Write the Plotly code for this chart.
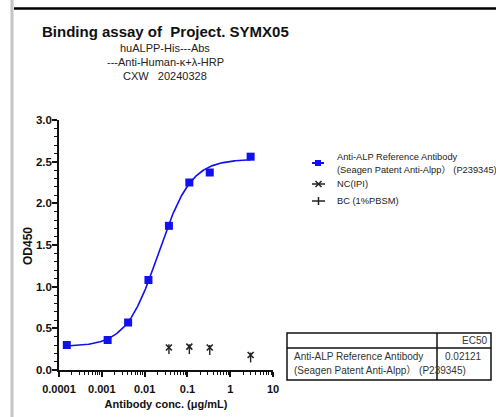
import plotly.graph_objects as go
import numpy as np

# ---------------- data ----------------
conc_ref = [0.000152, 0.00137, 0.00412, 0.0123, 0.037, 0.111, 0.333, 3.0]
od_ref = [0.30, 0.36, 0.57, 1.08, 1.73, 2.25, 2.37, 2.56]

conc_nc = [0.037, 0.111, 0.333, 3.0]
od_nc = [0.27, 0.28, 0.27, 0.18]

conc_bc = [0.037, 0.111, 0.333, 3.0]
od_bc = [0.25, 0.25, 0.24, 0.15]

# 4PL fit parameters (from the fitted curve)
fit_bottom = 0.28
fit_top = 2.53
fit_ec50 = 0.02121
fit_hill = 1.15

x_tickvals = [0.0001, 0.001, 0.01, 0.1, 1, 10]
x_ticktext = ["0.0001", "0.001", "0.01", "0.1", "1", "10"]
y_tickvals = [0.0, 0.5, 1.0, 1.5, 2.0, 2.5, 3.0]
y_ticktext = ["0.0", "0.5", "1.0", "1.5", "2.0", "2.5", "3.0"]

legend_names = ["Anti-ALP Reference Antibody", "(Seagen Patent Anti-Alpp\uff09 (P239345)", "NC(IPI)", "BC (1%PBSM)"]
ec50_label = "EC50"
ec50_value = "0.02121"

BLUE = "#1010f0"
FONT = "Liberation Sans, Arial, Noto Sans CJK SC, sans-serif"
W, H = 496, 417
L, R, T, B = 59, 273, 120, 370

def px(x):
    return (x - L) / (R - L)

def py(y):
    return (B - y) / (B - T)

xs = np.logspace(np.log10(min(conc_ref)), np.log10(max(conc_ref)), 300)
ys = fit_bottom + (fit_top - fit_bottom) / (1 + (fit_ec50 / xs) ** fit_hill)

fig = go.Figure()
fig.add_trace(go.Scatter(x=xs, y=ys, mode="lines", line=dict(color=BLUE, width=1.6),
                         hoverinfo="skip", showlegend=False))
fig.add_trace(go.Scatter(x=conc_ref, y=od_ref, mode="markers",
                         marker=dict(symbol="square", size=8, color=BLUE), showlegend=False))
fig.add_trace(go.Scatter(x=conc_nc, y=od_nc, mode="markers",
                         marker=dict(symbol="x-thin", size=6, line=dict(color="#222", width=1.6)),
                         showlegend=False))
fig.add_trace(go.Scatter(x=conc_bc, y=od_bc, mode="markers",
                         marker=dict(symbol="line-ns", size=7, line=dict(color="#222", width=1.4)),
                         showlegend=False))

fig.update_xaxes(type="log", range=[-4, 1], tickvals=x_tickvals, ticktext=x_ticktext, automargin=False,
                 showline=True, linecolor="#111", linewidth=1.5, ticks="outside", ticklen=5,
                 tickwidth=1.5, tickcolor="#111", showgrid=False, zeroline=False, ticklabelstandoff=3,
                 tickfont=dict(family=FONT, size=11, color="#111", weight="bold"),
                 minor=dict(tickvals=[m * 10 ** e for e in range(-4, 1) for m in range(2, 10)],
                            ticks="outside", ticklen=3, tickwidth=1.2, tickcolor="#111"),
                 title=dict(text="<b>Antibody conc. (\u03bcg/mL)</b>", standoff=6,
                            font=dict(family=FONT, size=11, color="#111")))
fig.update_yaxes(range=[0, 3], tickvals=y_tickvals, ticktext=y_ticktext, automargin=False,
                 showline=True, linecolor="#111", linewidth=1.5, ticks="outside", ticklen=5,
                 tickwidth=1.5, tickcolor="#111", showgrid=False, zeroline=False, ticklabelstandoff=-2,
                 tickfont=dict(family=FONT, size=11.5, color="#111", weight="bold"),
                 minor=dict(dtick=0.1, ticks="outside", ticklen=3, tickwidth=1.2, tickcolor="#111"))

shapes = []
annotations = []

# y-axis title
annotations.append(dict(text="<b>OD450</b>", xref="paper", yref="paper", x=px(28), y=py(246),
                        xanchor="center", yanchor="middle", textangle=-90, showarrow=False,
                        font=dict(family=FONT, size=12, color="#111")))

# window frame
shapes.append(dict(type="rect", xref="paper", yref="paper", x0=px(13), x1=px(W + 5), y0=py(0), y1=py(-5),
                   fillcolor="#c9cdd6", line=dict(width=0), layer="above"))
shapes.append(dict(type="rect", xref="paper", yref="paper", x0=px(10.5), x1=px(13.5), y0=py(H + 5), y1=py(-5),
                   fillcolor="#c4c4c4", line=dict(width=0), layer="above"))
shapes.append(dict(type="line", xref="paper", yref="paper", x0=px(14), x1=px(W + 5), y0=py(8.5), y1=py(8.5),
                   line=dict(color="#000", width=2.5), layer="above"))

# titles
annotations.append(dict(text="<b>Binding assay of  Project. SYMX05</b>", xref="paper", yref="paper",
                        x=px(40), y=py(32), xanchor="left", yanchor="middle", showarrow=False,
                        font=dict(family=FONT, size=15, color="#111")))
sub_font = dict(family=FONT, size=11, color="#222")
for txt, yy in [("huALPP-His---Abs", 48), ("---Anti-Human-\u03ba+\u03bb-HRP", 62), ("CXW   20240328", 76)]:
    annotations.append(dict(text=txt, xref="paper", yref="paper", x=px(165), y=py(yy),
                            xanchor="center", yanchor="middle", showarrow=False, font=sub_font))

# legend
leg_font = dict(family=FONT, size=9.3, color="#222")
shapes.append(dict(type="line", xref="paper", yref="paper", x0=px(312), x1=px(324), y0=py(163), y1=py(163),
                   line=dict(color=BLUE, width=2)))
shapes.append(dict(type="rect", xref="paper", yref="paper", x0=px(315), x1=px(321), y0=py(160), y1=py(166),
                   fillcolor=BLUE, line=dict(width=0)))
annotations.append(dict(text=legend_names[0], xref="paper", yref="paper", x=px(335), y=py(157),
                        xanchor="left", yanchor="middle", showarrow=False, font=leg_font))
annotations.append(dict(text=legend_names[1], xref="paper", yref="paper", x=px(335), y=py(169.5),
                        xanchor="left", yanchor="middle", showarrow=False, font=leg_font))
# NC glyph
shapes.append(dict(type="line", xref="paper", yref="paper", x0=px(312), x1=px(325), y0=py(184), y1=py(184),
                   line=dict(color="#222", width=1.5)))
shapes.append(dict(type="line", xref="paper", yref="paper", x0=px(315.5), x1=px(321.5), y0=py(181), y1=py(187),
                   line=dict(color="#222", width=1.5)))
shapes.append(dict(type="line", xref="paper", yref="paper", x0=px(315.5), x1=px(321.5), y0=py(187), y1=py(181),
                   line=dict(color="#222", width=1.5)))
annotations.append(dict(text=legend_names[2], xref="paper", yref="paper", x=px(335), y=py(184),
                        xanchor="left", yanchor="middle", showarrow=False, font=leg_font))
# BC glyph
shapes.append(dict(type="line", xref="paper", yref="paper", x0=px(312), x1=px(325), y0=py(201), y1=py(201),
                   line=dict(color="#222", width=1.5)))
shapes.append(dict(type="line", xref="paper", yref="paper", x0=px(318.5), x1=px(318.5), y0=py(197), y1=py(205),
                   line=dict(color="#222", width=1.5)))
annotations.append(dict(text=legend_names[3], xref="paper", yref="paper", x=px(335), y=py(201),
                        xanchor="left", yanchor="middle", showarrow=False, font=leg_font))

# EC50 table
tbl_line = dict(color="#111", width=1.5)
shapes.append(dict(type="rect", xref="paper", yref="paper", x0=px(287), x1=px(491), y0=py(333), y1=py(380),
                   line=tbl_line, fillcolor="rgba(0,0,0,0)"))
shapes.append(dict(type="line", xref="paper", yref="paper", x0=px(287), x1=px(491), y0=py(348), y1=py(348),
                   line=tbl_line))
shapes.append(dict(type="line", xref="paper", yref="paper", x0=px(437), x1=px(437), y0=py(333), y1=py(380),
                   line=tbl_line))
tbl_font = dict(family=FONT, size=10, color="#333")
annotations.append(dict(text=ec50_label, xref="paper", yref="paper", x=px(489), y=py(340.5),
                        xanchor="right", yanchor="middle", showarrow=False, font=tbl_font))
annotations.append(dict(text=legend_names[0], xref="paper", yref="paper", x=px(292), y=py(356),
                        xanchor="left", yanchor="middle", showarrow=False, font=tbl_font))
annotations.append(dict(text=legend_names[1], xref="paper", yref="paper", x=px(292), y=py(370),
                        xanchor="left", yanchor="middle", showarrow=False, font=tbl_font))
annotations.append(dict(text=ec50_value, xref="paper", yref="paper", x=px(463), y=py(356),
                        xanchor="center", yanchor="middle", showarrow=False, font=tbl_font))

fig.update_layout(width=W, height=H, margin=dict(l=L, r=W - R, t=T, b=H - B, pad=0, autoexpand=False),
                  paper_bgcolor="white", plot_bgcolor="white", showlegend=False,
                  shapes=shapes, annotations=annotations)

fig.write_html("out.html", config={"displayModeBar": False},
               post_script="document.body.style.margin='0';document.body.style.padding='0';document.body.style.overflow='hidden';")
